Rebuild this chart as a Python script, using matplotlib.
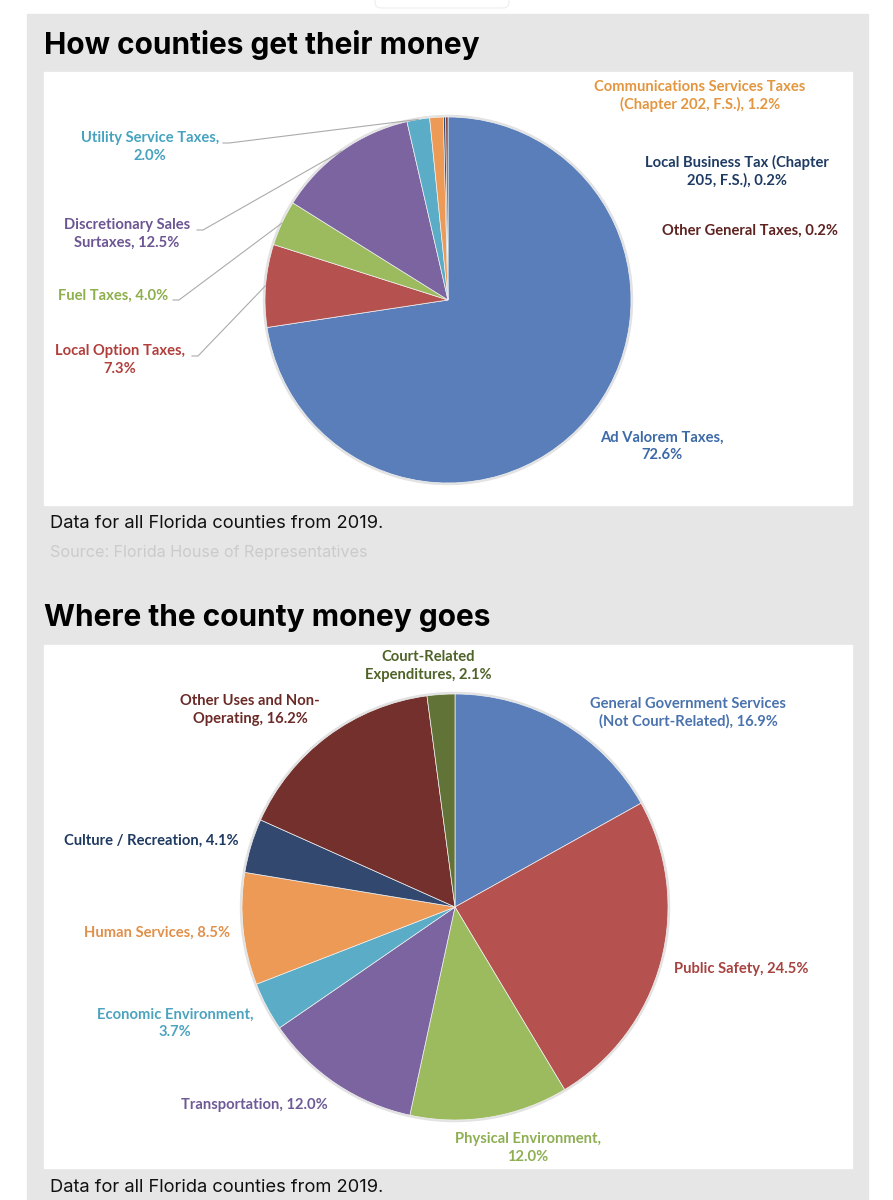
import matplotlib
matplotlib.use("Agg")
import matplotlib.pyplot as plt
import numpy as np
from matplotlib import font_manager
from matplotlib.patches import Rectangle, FancyBboxPatch, Circle

W, H = 893, 1200

# ---- data ----
rev_labels = ["Ad Valorem Taxes,\n72.6%", "Local Option Taxes,\n7.3%", "Fuel Taxes, 4.0%",
              "Discretionary Sales\nSurtaxes, 12.5%", "Utility Service Taxes,\n2.0%",
              "Communications Services Taxes\n(Chapter 202, F.S.), 1.2%",
              "Local Business Tax (Chapter\n205, F.S.), 0.2%", "Other General Taxes, 0.2%"]
rev_values = [72.6, 7.3, 4.0, 12.5, 2.0, 1.2, 0.2, 0.2]

exp_labels = ["General Government Services\n(Not Court-Related), 16.9%", "Public Safety, 24.5%",
              "Physical Environment,\n12.0%", "Transportation, 12.0%", "Economic Environment,\n3.7%",
              "Human Services, 8.5%", "Culture / Recreation, 4.1%",
              "Other Uses and Non-\nOperating, 16.2%", "Court-Related\nExpenditures, 2.1%"]
exp_values = [16.9, 24.5, 12.0, 12.0, 3.7, 8.5, 4.1, 16.2, 2.1]

# ---- styles ----
names = {f.name for f in font_manager.fontManager.ttflist}
def pick(*cands):
    return next((c for c in cands if c in names), "DejaVu Sans")
LABEL_FONT = pick("Lato", "Open Sans", "Noto Sans")
TITLE_FONT = pick("Inter", "Open Sans", "Lato")
CAP_FONT = pick("Inter", "Lato", "Open Sans")

rev_colors = ["#5A7EB9", "#B5524F", "#9CBA5E", "#7B64A0", "#5AACC7", "#EC9A55", "#2F4A72", "#73302D"]
rev_text = ["#3C69A8", "#B03F3C", "#8DAF4C", "#6B5592", "#45A3BF", "#E3963F", "#1F3B63", "#5E2220"]
# label block centre (px), and x of the leader-line hook (None = no leader)
rev_pos = [(662, 446), (120, 360), (113, 296), (127, 234), (150, 147), (700, 96), (737, 171), (750, 231)]
rev_hook = [None, 192, 173, 197, 223, None, None, None]

exp_colors = ["#5A7EB9", "#B5524F", "#9CBA5E", "#7B64A0", "#5AACC7", "#EC9A55", "#33486F", "#73302D", "#617337"]
exp_text = ["#4A73AE", "#A6423F", "#8DAF52", "#6E5A97", "#4CA3C0", "#E0904A", "#1F3A60", "#6B2A27", "#4F6228"]
exp_pos = [(688, 713), (741, 969), (528, 1148), (254, 1105), (175, 1023), (157, 933),
           (151, 841), (250, 710), (428, 666)]

LABEL_SIZE = 10.6
LSPACE = 1.3

fig = plt.figure(figsize=(W / 100, H / 100), dpi=100)
fig.patch.set_facecolor("white")
ax = fig.add_axes([0, 0, 1, 1])
ax.set_xlim(0, W)
ax.set_ylim(0, H)
ax.axis("off")

def Y(y):
    return H - y

# page backgrounds
ax.add_patch(Rectangle((27, 0), 841, Y(14), color="#e6e6e6", zorder=0))
ax.add_patch(FancyBboxPatch((375, Y(8)), 134, 20, boxstyle="round,pad=0,rounding_size=6",
                            fc="white", ec="#eeeeee", lw=0.8, zorder=1))
ax.add_patch(Rectangle((44, Y(505)), 808, 433, color="white", zorder=1))
ax.add_patch(Rectangle((44, Y(1168)), 808, 523, color="white", zorder=1))

ax.text(44, Y(45), "How counties get their money", fontsize=21.5, fontweight="bold",
        family=TITLE_FONT, color="black", va="center", ha="left", zorder=2)
ax.text(44, Y(618), "Where the county money goes", fontsize=21.5, fontweight="bold",
        family=TITLE_FONT, color="black", va="center", ha="left", zorder=2)
ax.text(50, Y(523), "Data for all Florida counties from 2019.", fontsize=13.2, family=CAP_FONT,
        color="#111111", va="center", ha="left", zorder=2)
ax.text(50, Y(553), "Source: Florida House of Representatives", fontsize=11.6, family=CAP_FONT,
        color="#cbcbcb", va="center", ha="left", zorder=2)
ax.text(50, Y(1187), "Data for all Florida counties from 2019.", fontsize=13.2, family=CAP_FONT,
        color="#111111", va="center", ha="left", zorder=2)


def draw_pie(values, colors, center, radius):
    ax.add_patch(Circle(center, radius + 1.5, color="#e2e2e2", zorder=2))
    wedges, _ = ax.pie(values, colors=colors, startangle=90, counterclock=False,
                       center=center, radius=radius, frame=True,
                       wedgeprops=dict(edgecolor="#f2f2f2", linewidth=0.5))
    for w in wedges:
        w.set_zorder(3)
    return wedges


rc = (448, Y(300))
rw = draw_pie(rev_values, rev_colors, rc, 183)
for w, lab, col, (x, y), hook in zip(rw, rev_labels, rev_text, rev_pos, rev_hook):
    ax.text(x, Y(y), lab, fontsize=LABEL_SIZE, fontweight="bold", family=LABEL_FONT, color=col,
            ha="center", va="center", linespacing=LSPACE, zorder=4)
    if hook is not None:
        a = np.deg2rad((w.theta1 + w.theta2) / 2)
        ex, ey = rc[0] + 183 * np.cos(a), rc[1] + 183 * np.sin(a)
        hy = Y(y - 4) if "\n" in lab else Y(y + 4)
        ax.plot([hook, hook + 6, ex], [hy, hy, ey], color="#ababab", lw=0.8, zorder=4)

ec = (455, Y(907))
draw_pie(exp_values, exp_colors, ec, 213)
for lab, col, (x, y) in zip(exp_labels, exp_text, exp_pos):
    ax.text(x, Y(y), lab, fontsize=LABEL_SIZE, fontweight="bold", family=LABEL_FONT, color=col,
            ha="center", va="center", linespacing=LSPACE, zorder=4)

# pie() changes limits, restore the pixel frame
ax.set_xlim(0, W)
ax.set_ylim(0, H)
ax.set_aspect("auto")
ax.axis("off")

fig.savefig("out.png", dpi=100, facecolor="white")
